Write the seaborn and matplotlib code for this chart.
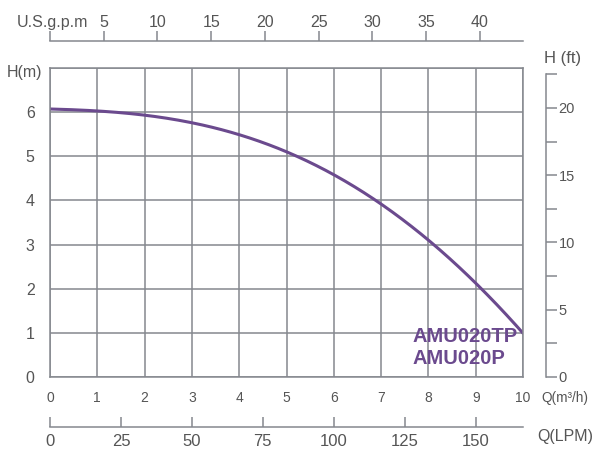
import numpy as np
import pandas as pd
import matplotlib
matplotlib.use("Agg")
import matplotlib.pyplot as plt
import seaborn as sns

# ─────────────────────────────────────────
# DATA
# ─────────────────────────────────────────
flow_m3h = [0, 1, 2, 3, 4, 5, 6, 7, 8, 9, 10]
head_m = [6.07, 6.03, 5.93, 5.76, 5.49, 5.10, 4.58, 3.91, 3.13, 2.10, 1.0]
models = ["AMU020TP", "AMU020P"]

gpm_ticks = [0, 5, 10, 15, 20, 25, 30, 35, 40]
lpm_ticks = [0, 25, 50, 75, 100, 125, 150]
ft_ticks = [0, 2.5, 5, 7.5, 10, 12.5, 15, 17.5, 20, 22.5]

M3H_TO_GPM = 4.40287
M3H_TO_LPM = 1000 / 60
M_TO_FT = 3.28084

df = pd.DataFrame({"Q": flow_m3h, "H": head_m})

# ─────────────────────────────────────────
# STYLE
# ─────────────────────────────────────────
sns.set_style("white")
plt.rcParams["font.family"] = ["Liberation Sans", "DejaVu Sans"]

axis_col = "#85888e"
text_col = "#555555"
curve_col = "#6b4a8e"

fig = plt.figure(figsize=(5.93, 4.49), dpi=100)
ax = fig.add_axes([50 / 593, 72 / 449, 473 / 593, 309 / 449])

# smooth curve through the read points
xs = np.linspace(0, 10, 200)
coef = np.polyfit(df["Q"], df["H"], 4)
smooth = pd.DataFrame({"Q": xs, "H": np.polyval(coef, xs)})
sns.lineplot(data=smooth, x="Q", y="H", ax=ax, color=curve_col, lw=2.2)

ax.set_xlim(0, 10)
ax.set_ylim(0, 7)
ax.set_xticks(range(0, 11))
ax.set_yticks(range(0, 8))
ax.set_yticklabels([str(i) for i in range(0, 7)] + [""])
ax.grid(True, color=axis_col, lw=1.1)
for s in ax.spines.values():
    s.set_color(axis_col)
    s.set_linewidth(1.1)
ax.tick_params(axis="x", direction="out", length=6, color=axis_col, width=1.1,
               labelsize=10, labelcolor=text_col, pad=4)
ax.tick_params(axis="y", direction="out", length=8, color=axis_col, width=1.1,
               labelsize=11.5, labelcolor=text_col, pad=3)
ax.set_xlabel("")
ax.set_ylabel("")

# top axis: US gpm
top = ax.secondary_xaxis(1.087, functions=(lambda q: q * M3H_TO_GPM, lambda g: g / M3H_TO_GPM))
top.set_xticks(gpm_ticks)
top.set_xticklabels([""] + [str(t) for t in gpm_ticks[1:]])
top.tick_params(direction="out", length=7, color=axis_col, width=1.1,
                labelsize=11.5, labelcolor=text_col, pad=1)
top.spines["top"].set_color(axis_col)
top.spines["top"].set_linewidth(1.1)

# bottom axis: LPM
bot = ax.secondary_xaxis(-0.162, functions=(lambda q: q * M3H_TO_LPM, lambda l: l / M3H_TO_LPM))
bot.set_xticks(lpm_ticks)
bot.tick_params(direction="in", length=7, color=axis_col, width=1.1,
                labelsize=12, labelcolor=text_col, pad=5)
bot.spines["bottom"].set_color(axis_col)
bot.spines["bottom"].set_linewidth(1.1)

# right axis: feet
rgt = ax.secondary_yaxis(1.0486, functions=(lambda h: h * M_TO_FT, lambda f: f / M_TO_FT))
rgt.set_yticks(ft_ticks)
rgt.set_yticklabels([f"{t:g}" if t % 5 == 0 else "" for t in ft_ticks])
rgt.tick_params(direction="out", length=8, color=axis_col, width=1.1,
                labelsize=10.5, labelcolor=text_col, pad=1)
rgt.spines["right"].set_color(axis_col)
rgt.spines["right"].set_linewidth(1.1)
rgt.spines["right"].set_bounds(0, 22.5)

# axis captions
fig.text(17 / 593, 1 - 22 / 449, "U.S.g.p.m", fontsize=11.5, color=text_col, va="center")
fig.text(7 / 593, 1 - 72 / 449, "H(m)", fontsize=11.5, color=text_col, va="center")
fig.text(544 / 593, 1 - 59 / 449, "H (ft)", fontsize=12, color=text_col, va="center")
fig.text(541 / 593, 1 - 398 / 449, "Q(m³/h)", fontsize=9.8, color=text_col, va="center")
fig.text(537 / 593, 1 - 436 / 449, "Q(LPM)", fontsize=11.5, color=text_col, va="center")

# model labels
for i, m in enumerate(models):
    ax.text(7.66, 0.92 - i * 0.5, m, fontsize=14.5, fontweight="bold",
            color=curve_col, va="center", ha="left")

fig.savefig("out.png", dpi=100)
